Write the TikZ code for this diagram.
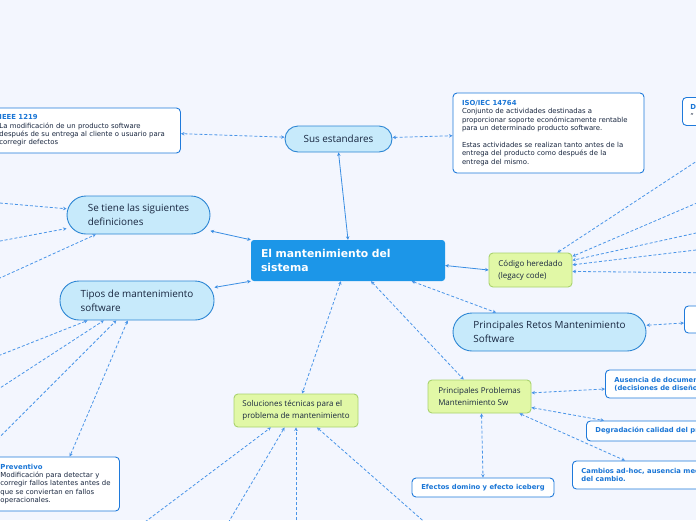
\documentclass[tikz,border=0pt]{standalone}
\usepackage{fontspec}
\setmainfont{DejaVu Sans}
\newfontfamily\pillfont{Open Sans}
\usetikzlibrary{arrows.meta}
\definecolor{bgcol}{HTML}{F3F6FE}
\definecolor{mainfill}{HTML}{1C96E8}
\definecolor{pillfill}{HTML}{C7EAFB}
\definecolor{pillline}{HTML}{2C86D4}
\definecolor{greenfill}{HTML}{E1F8A6}
\definecolor{greenline}{HTML}{A9D36E}
\definecolor{boxline}{HTML}{1F7ADB}
\definecolor{titlecol}{HTML}{1A76D6}
\definecolor{textcol}{HTML}{18263F}
\definecolor{linkcol}{HTML}{3A8EE3}
\definecolor{dashcol}{HTML}{4A95E8}
\begin{document}
\begin{tikzpicture}[x=1pt,y=-1pt,>={Stealth[length=3.5pt,width=3.5pt]},
  mainbox/.style={fill=mainfill,rounded corners=3pt,text=white,font=\bfseries\fontsize{10.8}{14}\selectfont,align=left,text width=174pt,inner xsep=10pt,minimum height=41pt},
  pill/.style={draw=pillline,fill=pillfill,line width=0.9pt,rounded corners=#1,text=textcol,align=left,font=\pillfont\fontsize{9.9}{14}\selectfont},
  pill/.default=19pt,
  greenbox/.style={draw=greenline,fill=greenfill,line width=0.9pt,rounded corners=4pt,text=textcol,align=left,font=\pillfont\fontsize{8}{12}\selectfont},
  notebox/.style={draw=boxline,fill=white,line width=0.9pt,rounded corners=4pt,text=textcol,align=left,font=\fontsize{6.9}{8.4}\selectfont},
  labelbox/.style={notebox,text=titlecol,font=\bfseries\fontsize{6.8}{8.4}\selectfont,inner xsep=9pt},
  link/.style={draw=linkcol,line width=0.8pt,<->},
  dlink/.style={draw=dashcol,line width=0.8pt,dash pattern=on 3pt off 2pt,<->},
  dfrom/.style={draw=dashcol,line width=0.8pt,dash pattern=on 3pt off 2pt,->}]
\useasboundingbox (0,0) rectangle (696,520);
\fill[bgcol] (0,0) rectangle (696,520);
\clip (0,0) rectangle (696,520);

\node[mainbox] (main) at (348,260.5) {El mantenimiento del\\sistema};
\node[pill=13pt,minimum width=107pt,minimum height=26pt] (estandares) at (338.5,139) {Sus estandares};
\node[notebox,anchor=west,text width=175pt,inner xsep=6pt,minimum height=45pt] (ieee) at (-7,130.5) {{\bfseries\color{titlecol}IEEE 1219}\\La modificación de un producto software\\después de su entrega al cliente o usuario para\\corregir defectos};
\node[notebox,text width=173pt,inner xsep=9pt,minimum height=80pt] (iso) at (548.5,133) {{\bfseries\color{titlecol}ISO/IEC 14764}\\Conjunto de actividades destinadas a\\proporcionar soporte económicamente rentable\\para un determinado producto software.\\[8.4pt]Estas actividades se realizan tanto antes de la\\entrega del producto como después de la\\entrega del mismo.};
\node[notebox,anchor=north west,text width=44pt,inner xsep=8pt,minimum height=28pt] (dbox) at (682,97) {{\bfseries\color{titlecol}D}\\“};
\node[pill,minimum width=143pt,minimum height=38pt] (defin) at (138.5,215) {Se tiene las siguientes\\definiciones};
\node[pill,minimum width=154pt,minimum height=39pt] (tipos) at (137,300.5) {Tipos de mantenimiento\\software};
\node[greenbox,minimum width=83pt,minimum height=34pt] (legado) at (530.5,270) {Código heredado\\(legacy code)};
\node[pill,minimum width=193pt,minimum height=38pt] (retos) at (549.5,332) {Principales Retos Mantenimiento\\Software};
\node[notebox,anchor=west,minimum width=40pt,minimum height=27pt] (rbox) at (684,319.5) {};
\node[greenbox,minimum width=103pt,minimum height=33pt] (problemas) at (479.5,396.5) {Principales Problemas\\Mantenimiento Sw};
\node[labelbox,anchor=west,minimum height=28pt] (ausencia) at (605,384) {Ausencia de documentación\\(decisiones de diseño)};
\node[labelbox,anchor=west,minimum height=20pt] (degrad) at (586,431) {Degradación calidad del producto};
\node[labelbox,anchor=west,minimum height=28pt] (cambios) at (572,475) {Cambios ad-hoc, ausencia mecanismos de gestión\\del cambio.};
\node[labelbox,minimum width=142pt,minimum height=19pt] (efectos) at (483,487.5) {Efectos domino y efecto iceberg};
\node[greenbox,minimum width=124pt,minimum height=33pt] (soluciones) at (296,410.5) {Soluciones técnicas para el\\problema de mantenimiento};
\node[notebox,anchor=west,text width=113pt,inner xsep=6pt,minimum height=54pt] (preventivo) at (-6,484) {{\bfseries\color{titlecol}Preventivo}\\Modificación para detectar y\\corregir fallos latentes antes de\\que se conviertan en fallos\\operacionales.};

\coordinate (d1) at (-20,201.3);
\coordinate (d2) at (-20,244.8);
\coordinate (d3) at (-20,287.1);
\coordinate (t1) at (-20,363);
\coordinate (t2) at (-20,401);
\coordinate (t3) at (-20,456.7);
\coordinate (c1) at (716,148.5);
\coordinate (c2) at (716,194.8);
\coordinate (c3) at (716,228.6);
\coordinate (c4) at (716,247.6);
\coordinate (c5) at (716,272.9);
\coordinate (s1) at (121,540);
\coordinate (s2) at (218,540);
\coordinate (s3) at (296,540);
\coordinate (s4) at (445,540);

\draw[link] (main.north) -- (estandares.south);
\draw[dlink] (estandares) -- (ieee);
\draw[dlink] (estandares) -- (iso);
\draw[link] (main.north west) -- (defin);
\draw[link] (main.south west) -- (tipos);
\draw[link] ([yshift=-5pt]main.east) -- (legado.west);
\draw[dlink] (main.-18) -- (retos.160);
\draw[dlink] (main.-42) -- (problemas.133);
\draw[dlink] (main.-109) -- (soluciones.70);
\draw[dlink] (retos.4) -- ([yshift=-3.5pt]rbox.west);
\draw[dlink] (problemas.4) -- ([yshift=-5pt]ausencia.west);
\draw[dlink] (problemas.-12) -- ([xshift=18pt]degrad.north west);
\draw[dlink] (problemas.-23) -- ([xshift=53pt]cambios.north west);
\draw[dlink] ([xshift=2pt]problemas.south) -- (efectos.north);
\draw[dlink] (tipos.-115) -- (preventivo.65);
\draw[dfrom] (d1) -- (defin);
\draw[dfrom] (d2) -- (defin);
\draw[dfrom] (d3) -- (defin);
\draw[dfrom] (t1) -- (tipos.-158);
\draw[dfrom] (t2) -- (tipos.-149);
\draw[dfrom] (t3) -- (tipos.-136);
\draw[dfrom] (c1) -- (legado.33);
\draw[dfrom] (c2) -- (legado.18);
\draw[dfrom] (c3) -- (legado.13);
\draw[dfrom] (c4) -- (legado.7);
\draw[dfrom] (c5) -- (legado.-2);
\draw[dfrom] (s1) -- (soluciones.-146);
\draw[dfrom] (s2) -- (soluciones.-124);
\draw[dfrom] (s3) -- (soluciones.south);
\draw[dfrom] (s4) -- (soluciones.-39);
\end{tikzpicture}
\end{document}
